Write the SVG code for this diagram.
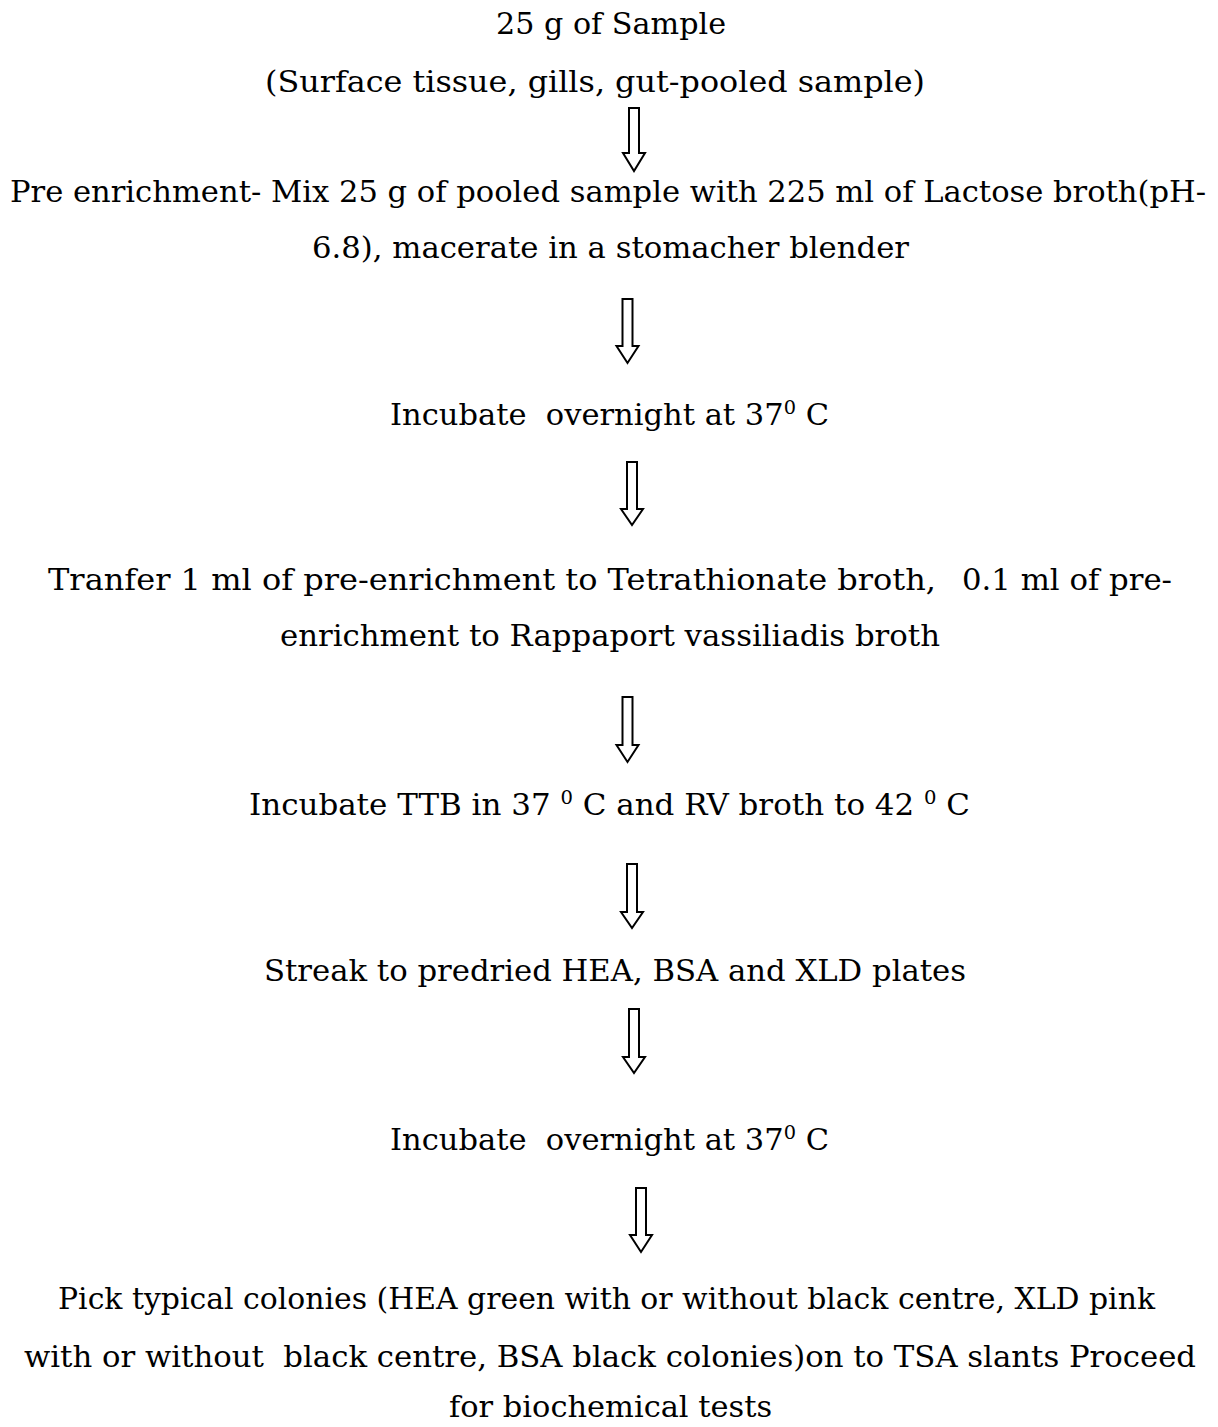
<svg xmlns="http://www.w3.org/2000/svg" width="1218" height="1427" viewBox="0 0 1218 1427">
<style>
  text { font-family: "DejaVu Serif", "Liberation Serif", serif; font-size: 30px; fill: #000; }
  .sup { font-size: 19px; }
  .arrow { fill: #fff; stroke: #000; stroke-width: 2; stroke-linejoin: miter; }
</style>
<rect width="1218" height="1427" fill="#fff"/>
<g id="node-sample">
  <text x="496" y="34" textLength="230" lengthAdjust="spacingAndGlyphs">25 g of Sample</text>
  <text x="265" y="92" textLength="660" lengthAdjust="spacingAndGlyphs">(Surface tissue, gills, gut-pooled sample)</text>
</g>
<g id="node-preenrichment">
  <text x="10" y="202" textLength="1196" lengthAdjust="spacingAndGlyphs">Pre enrichment- Mix 25 g of pooled sample with 225 ml of Lactose broth(pH-</text>
  <text x="312" y="258" textLength="597" lengthAdjust="spacingAndGlyphs">6.8), macerate in a stomacher blender</text>
</g>
<g id="node-incubate1">
  <text x="390" y="425" textLength="439" lengthAdjust="spacingAndGlyphs" xml:space="preserve">Incubate  overnight at 37<tspan class="sup" dy="-11">0</tspan><tspan dy="11"> C</tspan></text>
</g>
<g id="node-transfer">
  <text x="48" y="590" textLength="888" lengthAdjust="spacingAndGlyphs">Tranfer 1 ml of pre-enrichment to Tetrathionate broth,</text>
  <text x="962" y="590" textLength="210" lengthAdjust="spacingAndGlyphs">0.1 ml of pre-</text>
  <text x="280" y="646" textLength="660" lengthAdjust="spacingAndGlyphs">enrichment to Rappaport vassiliadis broth</text>
</g>
<g id="node-incubate2">
  <text x="249" y="815" textLength="721" lengthAdjust="spacingAndGlyphs" xml:space="preserve">Incubate TTB in 37 <tspan class="sup" dy="-11">0</tspan><tspan dy="11"> C and RV broth to 42 </tspan><tspan class="sup" dy="-11">0</tspan><tspan dy="11"> C</tspan></text>
</g>
<g id="node-streak">
  <text x="264" y="981" textLength="702" lengthAdjust="spacingAndGlyphs">Streak to predried HEA, BSA and XLD plates</text>
</g>
<g id="node-incubate3">
  <text x="390" y="1150" textLength="439" lengthAdjust="spacingAndGlyphs" xml:space="preserve">Incubate  overnight at 37<tspan class="sup" dy="-11">0</tspan><tspan dy="11"> C</tspan></text>
</g>
<g id="node-pick">
  <text x="58" y="1309" textLength="1097" lengthAdjust="spacingAndGlyphs">Pick typical colonies (HEA green with or without black centre, XLD pink</text>
  <text x="24" y="1367" textLength="1172" lengthAdjust="spacingAndGlyphs" xml:space="preserve">with or without  black centre, BSA black colonies)on to TSA slants Proceed</text>
  <text x="449" y="1417" textLength="323" lengthAdjust="spacingAndGlyphs">for biochemical tests</text>
</g>
<g id="connectors">
  <path class="arrow" d="M629,108 V153 H623 L634,171 L645,153 H639 V108 Z"/>
  <path class="arrow" d="M622.5,299 V346 H616.5 L627.5,363 L638.5,346 H632.5 V299 Z"/>
  <path class="arrow" d="M627,462 V509 H621 L632,525 L643,509 H637 V462 Z"/>
  <path class="arrow" d="M622.5,697 V745 H616.5 L627.5,762 L638.5,745 H632.5 V697 Z"/>
  <path class="arrow" d="M627,864 V912 H621 L632,928 L643,912 H637 V864 Z"/>
  <path class="arrow" d="M629,1009 V1057 H623 L634,1073 L645,1057 H639 V1009 Z"/>
  <path class="arrow" d="M636,1188 V1235 H630 L641,1252 L652,1235 H646 V1188 Z"/>
</g>
</svg>
